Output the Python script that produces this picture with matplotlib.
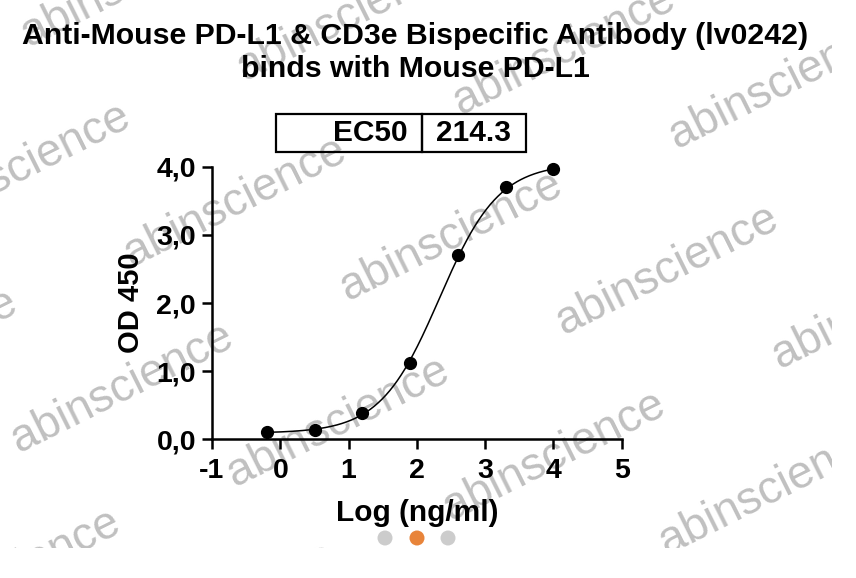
import numpy as np
import matplotlib
matplotlib.use("Agg")
import matplotlib.pyplot as plt
from matplotlib.patches import Ellipse
from matplotlib.transforms import Bbox, TransformedBbox

plt.rcParams["font.family"] = ["Liberation Sans", "DejaVu Sans"]
plt.rcParams["font.weight"] = "bold"
plt.rcParams["axes.unicode_minus"] = False

# data (5-fold dilution from 10000 ng/ml)
log_conc = [4.0, 3.301, 2.602, 1.903, 1.204, 0.505, -0.194]
od450 = [3.97, 3.70, 2.70, 1.12, 0.38, 0.13, 0.10]

# 4PL fit parameters
fit_bottom = 0.09
fit_top = 4.05
fit_log_ec50 = np.log10(214.3)
fit_hill = 1.0

ec50_row = ["EC50", "214.3"]
x_ticks = [-1, 0, 1, 2, 3, 4, 5]
y_ticks = [0, 1, 2, 3, 4]
y_ticklabels = ["0,0", "1,0", "2,0", "3,0", "4,0"]

title = "Anti-Mouse PD-L1 & CD3e Bispecific Antibody (lv0242)\nbinds with Mouse PD-L1"

W, H = 856, 578
fig = plt.figure(figsize=(W / 100, H / 100), dpi=100)


def fx(px):
    return px / W


def fy(py):
    return 1 - py / H


# watermark
clip = TransformedBbox(Bbox.from_extents(0, 30 / H, 832 / W, 1), fig.transFigure)
for r in range(-1, 4):
    for c in range(-1, 6):
        cx = 19 + 216 * c - 113 * r
        cy = 168 + 34 * c + 186 * r
        t = fig.text(fx(cx), fy(cy), "abinscience", fontsize=33, fontweight="normal",
                     color="#c0c0c0", rotation=26.5, rotation_mode="anchor",
                     ha="center", va="center", zorder=-1)
        t.set_clip_box(clip)
        t.set_clip_on(True)

ax = fig.add_axes([fx(212), fy(439.3), fx(621.7 - 212), (439.3 - 166.7) / H])
ax.set_facecolor("none")

xs = np.linspace(min(log_conc), max(log_conc), 300)
ys = fit_bottom + (fit_top - fit_bottom) / (1 + 10 ** ((fit_log_ec50 - xs) * fit_hill))
ax.plot(xs, ys, color="black", lw=1.1, clip_on=False)
ax.plot(log_conc, od450, "o", color="black", ms=8.5, clip_on=False, zorder=3)

ax.set_xlim(-1, 5)
ax.set_ylim(0, 4)
ax.set_xticks(x_ticks)
ax.set_yticks(y_ticks)
ax.set_yticklabels(y_ticklabels)
for s in ["top", "right"]:
    ax.spines[s].set_visible(False)
for s in ["left", "bottom"]:
    ax.spines[s].set_linewidth(1.8)
ax.tick_params(direction="out", length=7.5, width=1.8, labelsize=20.5)
ax.tick_params(axis="x", pad=6)
ax.tick_params(axis="y", pad=4)

ax.set_xlabel("Log (ng/ml)", fontsize=21.5, fontweight="bold", va="top")
ax.xaxis.set_label_coords(0.5, -0.218)
ax.set_ylabel("OD 450", fontsize=21, fontweight="bold")
ax.yaxis.set_label_coords(-0.163, 0.5)

# EC50 box
tbl = ax.table(cellText=[ec50_row], cellLoc="right",
               colWidths=[145.7, 104.3],
               bbox=[(276 - 212) / 409.7, (439.3 - 152) / 272.6,
                     250 / 409.7, 38 / 272.6])
tbl.auto_set_font_size(False)
tbl.set_fontsize(21.5)
for (i, j), cell in tbl.get_celld().items():
    cell.set_facecolor("none")
    cell.set_linewidth(1.6)
    cell.get_text().set_fontweight("bold")
tbl[0, 1].get_text().set_ha("center")

fig.text(fx(415), fy(22), title, ha="center", va="top", fontsize=21.8,
         fontweight="bold", linespacing=1.22)

# white strip below the screenshot area
fig.patches.append(plt.Rectangle((0, 0), 1, 30 / H, transform=fig.transFigure,
                                 facecolor="white", edgecolor="none", zorder=-0.5))

# carousel dots
for px, col in [(385, "#cccccc"), (417, "#e8843a"), (448, "#cccccc")]:
    fig.patches.append(Ellipse((fx(px), fy(538)), 15 / W, 15 / H,
                               transform=fig.transFigure, facecolor=col,
                               edgecolor="none", zorder=5))

fig.savefig("out.png", dpi=100)
